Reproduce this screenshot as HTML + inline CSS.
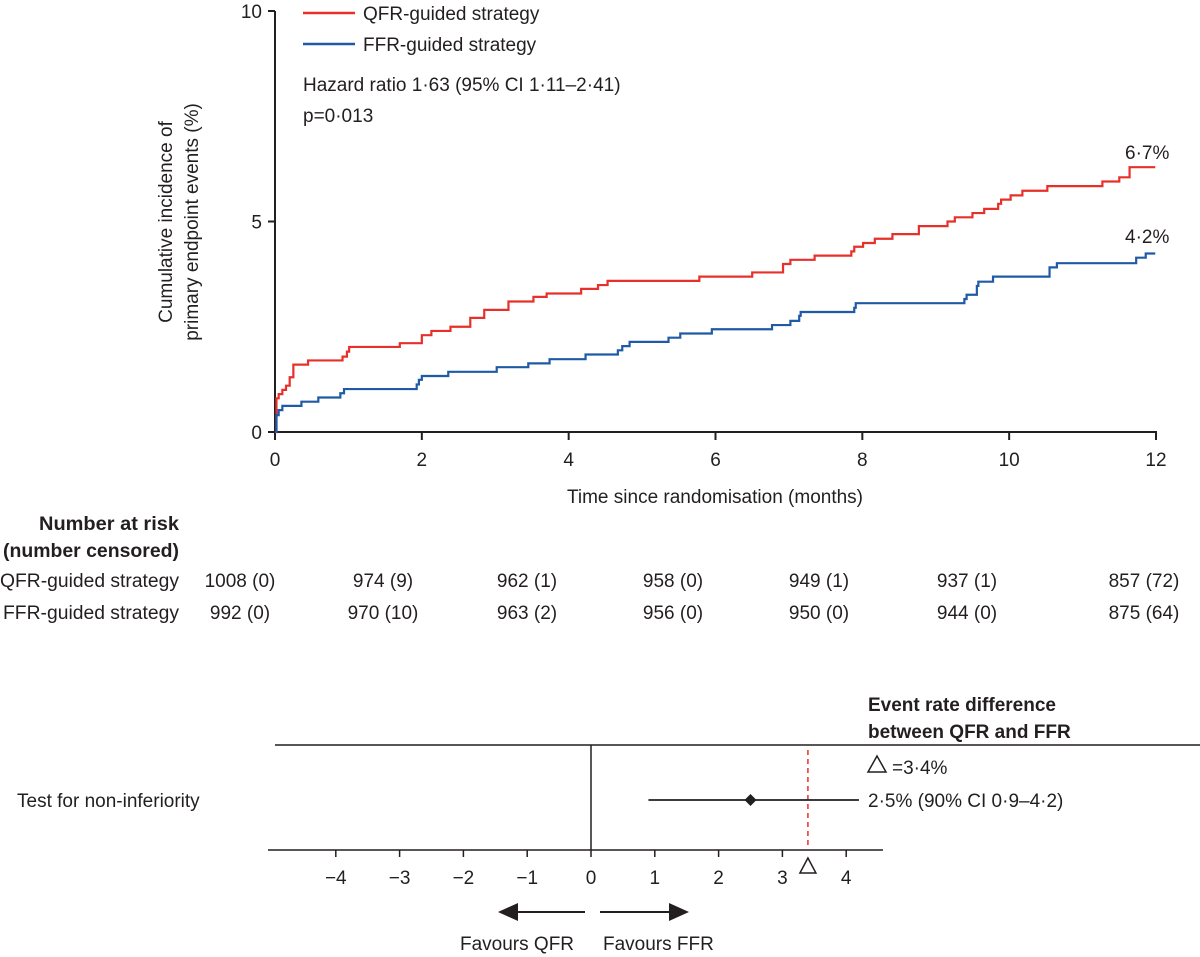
<!DOCTYPE html>
<html><head><meta charset="utf-8"><style>
html,body{margin:0;padding:0;background:#fff;}
svg{display:block;font-family:"Liberation Sans",sans-serif;}
text{fill:#231f20;}
</style></head><body>
<svg id="chart" width="1200" height="957" viewBox="0 0 1200 957">
<g id="axes"></g>
<g id="curves"></g>
<g>
<line x1="303" y1="13" x2="355" y2="13" stroke="#e8302a" stroke-width="2.5"/>
<text x="363" y="20" font-size="19">QFR-guided strategy</text>
<line x1="303" y1="44" x2="355" y2="44" stroke="#1f5aa6" stroke-width="2.5"/>
<text x="363" y="51" font-size="19">FFR-guided strategy</text>
<text x="303" y="91" font-size="19">Hazard ratio 1·63 (95% CI 1·11–2·41)</text>
<text x="303" y="122" font-size="19">p=0·013</text>
</g>
<text x="1125" y="159" font-size="19">6·7%</text>
<text x="1125" y="243" font-size="19">4·2%</text>
<text transform="translate(172,222) rotate(-90)" text-anchor="middle" font-size="19"><tspan x="0" y="0">Cumulative incidence of</tspan><tspan x="0" y="26">primary endpoint events (%)</tspan></text>
<text x="715" y="503" text-anchor="middle" font-size="19">Time since randomisation (months)</text>
<g id="risk">
<text x="179" y="530" text-anchor="end" font-size="19" font-weight="bold" textLength="140" lengthAdjust="spacingAndGlyphs">Number at risk</text>
<text x="179" y="557" text-anchor="end" font-size="19" font-weight="bold" textLength="176" lengthAdjust="spacingAndGlyphs">(number censored)</text>
<text x="179" y="587" text-anchor="end" font-size="19" textLength="179" lengthAdjust="spacingAndGlyphs">QFR-guided strategy</text>
<text x="179" y="619" text-anchor="end" font-size="19" textLength="176" lengthAdjust="spacingAndGlyphs">FFR-guided strategy</text>
</g>
<g id="forest">
<text x="868" y="711" font-size="19" font-weight="bold">Event rate difference</text>
<text x="868" y="738" font-size="19" font-weight="bold">between QFR and FFR</text>
<line x1="275" y1="745" x2="1200" y2="745" stroke="#231f20" stroke-width="1.5"/>
<text x="17" y="807" font-size="19">Test for non-inferiority</text>
<polygon points="877,756 868,772 886,772" fill="none" stroke="#231f20" stroke-width="1.5"/>
<text x="892" y="774" font-size="19">=3·4%</text>
<text x="868" y="807" font-size="19">2·5% (90% CI 0·9–4·2)</text>
<text x="460" y="950" font-size="19">Favours QFR</text>
<text x="603" y="950" font-size="19">Favours FFR</text>
<line x1="585" y1="912" x2="515" y2="912" stroke="#231f20" stroke-width="2"/>
<polygon points="498,912 518,903 518,921" fill="#231f20"/>
<line x1="600" y1="912" x2="672" y2="912" stroke="#231f20" stroke-width="2"/>
<polygon points="689,912 669,903 669,921" fill="#231f20"/>
</g>
</svg>
<script>
const NS="http://www.w3.org/2000/svg";
const xTicks=[0,2,4,6,8,10,12];
const yTicks=[0,5,10];
const qfrTimes=[0,0.02,0.05,0.1,0.15,0.2,0.25,0.45,0.92,0.98,1.01,1.70,2.0,2.13,2.39,2.66,2.85,3.18,3.52,3.70,4.17,4.40,4.53,5.78,6.50,6.92,7.02,7.35,7.85,7.89,8.01,8.17,8.41,8.77,9.16,9.26,9.50,9.66,9.85,9.89,10.02,10.18,10.52,11.27,11.50,11.64];
const qfrRates=[0,0.8,0.9,1.0,1.1,1.3,1.6,1.7,1.79,1.91,2.02,2.11,2.30,2.40,2.50,2.71,2.90,3.10,3.21,3.29,3.40,3.49,3.59,3.69,3.79,3.99,4.09,4.19,4.29,4.40,4.49,4.59,4.70,4.89,5.00,5.10,5.20,5.30,5.42,5.52,5.62,5.73,5.84,5.95,6.05,6.29,6.40];
const ffrTimes=[0,0.02,0.05,0.1,0.36,0.59,0.89,0.94,1.93,1.96,2.00,2.36,3.02,3.45,3.74,4.23,4.67,4.73,4.83,5.36,5.52,5.95,6.77,7.02,7.14,7.16,7.89,7.91,9.39,9.42,9.56,9.58,9.78,10.55,10.65,11.73,11.86];
const ffrRates=[0,0.40,0.52,0.62,0.72,0.82,0.92,1.02,1.13,1.24,1.33,1.43,1.54,1.63,1.73,1.84,1.94,2.04,2.14,2.24,2.34,2.44,2.54,2.64,2.76,2.85,2.95,3.06,3.16,3.26,3.47,3.57,3.69,3.91,4.01,4.14,4.24];
const endTime=11.99;
const riskQfr=["1008 (0)","974 (9)","962 (1)","958 (0)","949 (1)","937 (1)","857 (72)"];
const riskFfr=["992 (0)","970 (10)","963 (2)","956 (0)","950 (0)","944 (0)","875 (64)"];
const forestTicks=[-4,-3,-2,-1,0,1,2,3,4];
const estimate=[2.5];
const ciLow=[0.9];
const ciHigh=[4.2];
const margin=[3.4];

const X=m=>275+m*(1156-275)/12;
const Y=p=>432-p*(432-11)/10;
const FX=v=>591+v*63.8;
function mk(tag,attrs,parent){const e=document.createElementNS(NS,tag);for(const k in attrs)e.setAttribute(k,attrs[k]);parent.appendChild(e);return e;}
const axes=document.getElementById('axes');
let l=mk('line',{x1:275,y1:11,x2:275,y2:433,stroke:'#231f20','stroke-width':2},axes);


l=mk('line',{x1:274,y1:432,x2:1157,y2:432,stroke:'#231f20','stroke-width':2},axes);


yTicks.forEach(v=>{
 const t=mk('line',{x1:268,y1:Y(v),x2:275,y2:Y(v),stroke:'#231f20','stroke-width':2},axes);
 
 
 const tx=mk('text',{x:262,y:Y(v)+7,'text-anchor':'end','font-size':19},axes);tx.textContent=v;
 
 
});
xTicks.forEach(v=>{
 const t=mk('line',{x1:X(v),y1:432,x2:X(v),y2:440,stroke:'#231f20','stroke-width':2},axes);
 
 
 const tx=mk('text',{x:X(v),y:466,'text-anchor':'middle','font-size':19},axes);tx.textContent=v;
 
 
});
function stepPath(ts,rs){
 let d=`M${X(ts[0])},${Y(rs[0])}`;
 for(let i=1;i<ts.length;i++){d+=`H${X(ts[i])}V${Y(rs[i])}`;}
 d+=`H${X(endTime)}`;return d;
}
const curves=document.getElementById('curves');
let p=mk('path',{d:stepPath(qfrTimes,qfrRates),fill:'none',stroke:'#e8302a','stroke-width':2.2},curves);


p=mk('path',{d:stepPath(ffrTimes,ffrRates),fill:'none',stroke:'#1f5aa6','stroke-width':2.2},curves);


const risk=document.getElementById('risk');
const riskCx=[240,383,527,673,819,967,1144];
riskQfr.forEach((s,i)=>{const t=mk('text',{x:riskCx[i],y:587,'text-anchor':'middle','font-size':19},risk);t.textContent=s;
 
 });
riskFfr.forEach((s,i)=>{const t=mk('text',{x:riskCx[i],y:619,'text-anchor':'middle','font-size':19},risk);t.textContent=s;
 
 });
const forest=document.getElementById('forest');
l=mk('line',{x1:268,y1:850,x2:883,y2:850,stroke:'#231f20','stroke-width':1.5},forest);


l=mk('line',{x1:FX(0),y1:745,x2:FX(0),y2:850,stroke:'#231f20','stroke-width':1.5},forest);


forestTicks.forEach(v=>{
 const t=mk('line',{x1:FX(v),y1:850,x2:FX(v),y2:857,stroke:'#231f20','stroke-width':1.5},forest);
 
 
 const tx=mk('text',{x:FX(v),y:884,'text-anchor':'middle','font-size':19},forest);tx.textContent=v<0?'−'+(-v):String(v);
 
 
});
l=mk('line',{x1:FX(margin[0]),y1:750,x2:FX(margin[0]),y2:848,stroke:'#e8302a','stroke-width':1.5,'stroke-dasharray':'5,4'},forest);


const mt=mk('polygon',{points:`${FX(margin[0])},858 ${FX(margin[0])-8},873 ${FX(margin[0])+8},873`,fill:'none',stroke:'#231f20','stroke-width':1.5},forest);


l=mk('line',{x1:FX(ciLow[0]),y1:800,x2:FX(ciHigh[0]),y2:800,stroke:'#231f20','stroke-width':1.8},forest);


const ex=FX(estimate[0]);
const dm=mk('polygon',{points:`${ex},794 ${ex+6},800 ${ex},806 ${ex-6},800`,fill:'#231f20'},forest);


</script>
</body></html>
